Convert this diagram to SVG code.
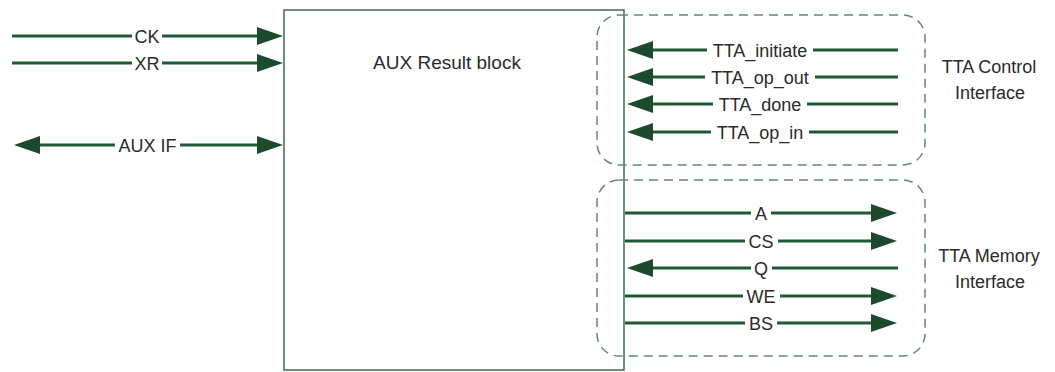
<svg xmlns="http://www.w3.org/2000/svg" width="1055" height="372" viewBox="0 0 1055 372">
<style>
text{font-family:"Liberation Sans",Arial,sans-serif;font-size:18px;fill:#2a2a2a;}
.lbl{text-anchor:middle;}
.ttl{font-size:19px;}
.w{fill:#fff;}
.sig{stroke:#1f5a35;stroke-width:3;fill:none;}
.blk{fill:#fff;stroke:#3d6e4d;stroke-width:1.5;}
.grp{fill:none;stroke:#5f8a6d;stroke-width:1.5;stroke-dasharray:9 6;}
</style>
<defs>
<marker id="ah" viewBox="0 0 26 18" markerWidth="26" markerHeight="18" refX="16" refY="9" orient="auto-start-reverse" markerUnits="userSpaceOnUse">
<path d="M0,0 L26,9 L0,18 Z" fill="#1b4a2c"/>
</marker>
</defs>
<rect width="1055" height="372" fill="#fff"/>
<g id="aux_block">
<rect class="blk" x="284" y="10" width="340" height="360"/>
<text class="lbl ttl" x="447" y="69">AUX Result block</text>
</g>
<g id="tta_control_if">
<rect class="grp" x="597" y="15" width="328" height="150" rx="22"/>
<text class="lbl" x="989" y="73">TTA Control</text>
<text class="lbl" x="990" y="99">Interface</text>
</g>
<g id="tta_memory_if">
<rect class="grp" x="597" y="180" width="328" height="176" rx="22"/>
<text class="lbl" x="989" y="262">TTA Memory</text>
<text class="lbl" x="990" y="288">Interface</text>
</g>
<g id="connectors">
<g id="c_ck"><line class="sig" x1="12" y1="36" x2="273" y2="36" marker-end="url(#ah)"/><rect class="w" x="132" y="26" width="30" height="20"/><text class="lbl" x="147" y="42.5">CK</text></g>
<g id="c_xr"><line class="sig" x1="12" y1="63" x2="273" y2="63" marker-end="url(#ah)"/><rect class="w" x="132" y="53" width="30" height="20"/><text class="lbl" x="147" y="69.5">XR</text></g>
<g id="c_auxif"><line class="sig" x1="24" y1="145" x2="273" y2="145" marker-start="url(#ah)" marker-end="url(#ah)"/><rect class="w" x="115" y="135" width="65" height="20"/><text class="lbl" x="147.5" y="151.5">AUX IF</text></g>
<g id="c_initiate"><line class="sig" x1="898" y1="50" x2="637" y2="50" marker-end="url(#ah)"/><rect class="w" x="707" y="40" width="106" height="20"/><text class="lbl" x="760" y="56.5">TTA_initiate</text></g>
<g id="c_opout"><line class="sig" x1="898" y1="77" x2="637" y2="77" marker-end="url(#ah)"/><rect class="w" x="705" y="67" width="110" height="20"/><text class="lbl" x="760" y="83.5">TTA_op_out</text></g>
<g id="c_done"><line class="sig" x1="898" y1="104" x2="637" y2="104" marker-end="url(#ah)"/><rect class="w" x="713" y="94" width="94" height="20"/><text class="lbl" x="760" y="110.5">TTA_done</text></g>
<g id="c_opin"><line class="sig" x1="898" y1="132" x2="637" y2="132" marker-end="url(#ah)"/><rect class="w" x="711" y="122" width="98" height="20"/><text class="lbl" x="760" y="138.5">TTA_op_in</text></g>
<g id="c_a"><line class="sig" x1="625" y1="213" x2="887" y2="213" marker-end="url(#ah)"/><rect class="w" x="751" y="203" width="20" height="20"/><text class="lbl" x="761" y="219.5">A</text></g>
<g id="c_cs"><line class="sig" x1="625" y1="241" x2="887" y2="241" marker-end="url(#ah)"/><rect class="w" x="745" y="231" width="33" height="20"/><text class="lbl" x="761" y="247.5">CS</text></g>
<g id="c_q"><line class="sig" x1="898" y1="268" x2="637" y2="268" marker-end="url(#ah)"/><rect class="w" x="751" y="258" width="21" height="20"/><text class="lbl" x="761" y="274.5">Q</text></g>
<g id="c_we"><line class="sig" x1="625" y1="296" x2="887" y2="296" marker-end="url(#ah)"/><rect class="w" x="743" y="286" width="37" height="20"/><text class="lbl" x="761" y="302.5">WE</text></g>
<g id="c_bs"><line class="sig" x1="625" y1="323" x2="887" y2="323" marker-end="url(#ah)"/><rect class="w" x="745" y="313" width="32" height="20"/><text class="lbl" x="761" y="329.5">BS</text></g>
</g>
</svg>
